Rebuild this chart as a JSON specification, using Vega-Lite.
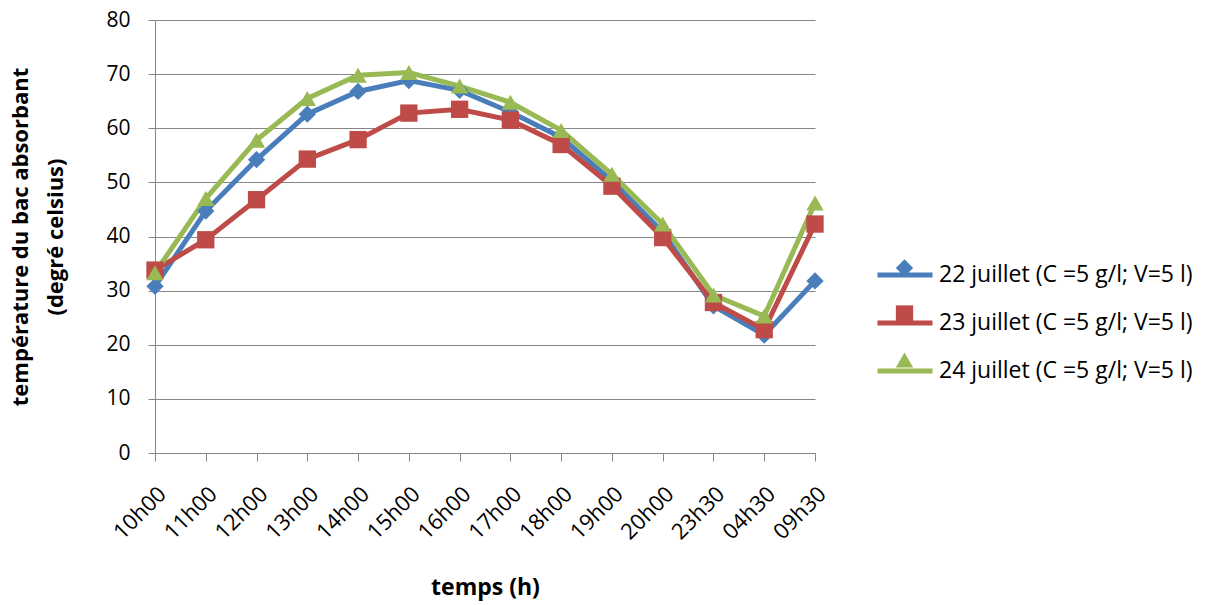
{
  "$schema": "https://vega.github.io/schema/vega-lite/v6.json",
  "width": 660,
  "height": 433,
  "autosize": {"type": "none"},
  "padding": {"left": 155, "top": 20, "right": 398, "bottom": 152},
  "background": "white",
  "config": {
    "font": "Open Sans",
    "view": {"stroke": null},
    "axis": {"labelFont": "Open Sans", "titleFont": "Open Sans", "labelColor": "black", "titleColor": "black"}
  },
  "data": {
    "values": [
      {"heure": "10h00", "serie": "22 juillet (C =5 g/l; V=5 l)", "temp": 30.8},
      {"heure": "11h00", "serie": "22 juillet (C =5 g/l; V=5 l)", "temp": 44.7},
      {"heure": "12h00", "serie": "22 juillet (C =5 g/l; V=5 l)", "temp": 54.2},
      {"heure": "13h00", "serie": "22 juillet (C =5 g/l; V=5 l)", "temp": 62.6},
      {"heure": "14h00", "serie": "22 juillet (C =5 g/l; V=5 l)", "temp": 66.8},
      {"heure": "15h00", "serie": "22 juillet (C =5 g/l; V=5 l)", "temp": 68.8},
      {"heure": "16h00", "serie": "22 juillet (C =5 g/l; V=5 l)", "temp": 67.0},
      {"heure": "17h00", "serie": "22 juillet (C =5 g/l; V=5 l)", "temp": 63.0},
      {"heure": "18h00", "serie": "22 juillet (C =5 g/l; V=5 l)", "temp": 58.3},
      {"heure": "19h00", "serie": "22 juillet (C =5 g/l; V=5 l)", "temp": 50.3},
      {"heure": "20h00", "serie": "22 juillet (C =5 g/l; V=5 l)", "temp": 40.8},
      {"heure": "23h30", "serie": "22 juillet (C =5 g/l; V=5 l)", "temp": 27.2},
      {"heure": "04h30", "serie": "22 juillet (C =5 g/l; V=5 l)", "temp": 21.8},
      {"heure": "09h30", "serie": "22 juillet (C =5 g/l; V=5 l)", "temp": 31.8},
      {"heure": "10h00", "serie": "23 juillet (C =5 g/l; V=5 l)", "temp": 33.8},
      {"heure": "11h00", "serie": "23 juillet (C =5 g/l; V=5 l)", "temp": 39.4},
      {"heure": "12h00", "serie": "23 juillet (C =5 g/l; V=5 l)", "temp": 46.8},
      {"heure": "13h00", "serie": "23 juillet (C =5 g/l; V=5 l)", "temp": 54.3},
      {"heure": "14h00", "serie": "23 juillet (C =5 g/l; V=5 l)", "temp": 57.9},
      {"heure": "15h00", "serie": "23 juillet (C =5 g/l; V=5 l)", "temp": 62.8},
      {"heure": "16h00", "serie": "23 juillet (C =5 g/l; V=5 l)", "temp": 63.5},
      {"heure": "17h00", "serie": "23 juillet (C =5 g/l; V=5 l)", "temp": 61.5},
      {"heure": "18h00", "serie": "23 juillet (C =5 g/l; V=5 l)", "temp": 57.0},
      {"heure": "19h00", "serie": "23 juillet (C =5 g/l; V=5 l)", "temp": 49.3},
      {"heure": "20h00", "serie": "23 juillet (C =5 g/l; V=5 l)", "temp": 39.8},
      {"heure": "23h30", "serie": "23 juillet (C =5 g/l; V=5 l)", "temp": 27.8},
      {"heure": "04h30", "serie": "23 juillet (C =5 g/l; V=5 l)", "temp": 22.8},
      {"heure": "09h30", "serie": "23 juillet (C =5 g/l; V=5 l)", "temp": 42.3},
      {"heure": "10h00", "serie": "24 juillet (C =5 g/l; V=5 l)", "temp": 33.3},
      {"heure": "11h00", "serie": "24 juillet (C =5 g/l; V=5 l)", "temp": 47.0},
      {"heure": "12h00", "serie": "24 juillet (C =5 g/l; V=5 l)", "temp": 57.8},
      {"heure": "13h00", "serie": "24 juillet (C =5 g/l; V=5 l)", "temp": 65.5},
      {"heure": "14h00", "serie": "24 juillet (C =5 g/l; V=5 l)", "temp": 69.8},
      {"heure": "15h00", "serie": "24 juillet (C =5 g/l; V=5 l)", "temp": 70.3},
      {"heure": "16h00", "serie": "24 juillet (C =5 g/l; V=5 l)", "temp": 67.8},
      {"heure": "17h00", "serie": "24 juillet (C =5 g/l; V=5 l)", "temp": 64.8},
      {"heure": "18h00", "serie": "24 juillet (C =5 g/l; V=5 l)", "temp": 59.6},
      {"heure": "19h00", "serie": "24 juillet (C =5 g/l; V=5 l)", "temp": 51.5},
      {"heure": "20h00", "serie": "24 juillet (C =5 g/l; V=5 l)", "temp": 42.3},
      {"heure": "23h30", "serie": "24 juillet (C =5 g/l; V=5 l)", "temp": 29.2},
      {"heure": "04h30", "serie": "24 juillet (C =5 g/l; V=5 l)", "temp": 25.3},
      {"heure": "09h30", "serie": "24 juillet (C =5 g/l; V=5 l)", "temp": 46.2}
    ]
  },
  "encoding": {
    "x": {
      "field": "heure", "type": "ordinal",
      "sort": ["10h00","11h00","12h00","13h00","14h00","15h00","16h00","17h00","18h00","19h00","20h00","23h30","04h30","09h30"],
      "scale": {"type": "point", "padding": 0},
      "axis": {
        "title": "temps (h)", "titleFontSize": 23, "titleFontWeight": "bold", "titlePadding": 34,
        "labelAngle": -45, "labelFontSize": 22, "labelPadding": 22,
        "tickSize": 8, "tickColor": "#868686", "domainColor": "#868686", "grid": false
      }
    },
    "y": {
      "field": "temp", "type": "quantitative",
      "scale": {"domain": [0, 80], "nice": false},
      "axis": {
        "title": ["température du bac absorbant", "(degré celsius)"],
        "titleFontSize": 22, "titleFontWeight": "bold", "titlePadding": 38, "titleLineHeight": 35,
        "values": [0,10,20,30,40,50,60,70,80],
        "labelFontSize": 21, "labelPadding": 18,
        "tickSize": 7, "tickColor": "#868686", "domainColor": "#868686",
        "grid": true, "gridColor": "#868686", "gridWidth": 1
      }
    }
  },
  "layer": [
    {
      "mark": {"type": "line", "strokeWidth": 5},
      "encoding": {
        "color": {
          "field": "serie", "type": "nominal",
          "scale": {"range": ["#4A7EBB", "#BE4B48", "#98B954"]},
          "legend": {
            "title": null, "orient": "none", "legendX": 720, "legendY": 225,
            "symbolType": "stroke", "symbolSize": 3025, "symbolStrokeWidth": 5,
            "labelFontSize": 23, "labelFont": "Open Sans", "labelColor": "black", "labelLimit": 400,
            "rowPadding": 6, "labelOffset": 4, "padding": 0
          }
        }
      }
    },
    {
      "mark": {"type": "point", "filled": true, "size": 300, "opacity": 1},
      "encoding": {
        "fill": {
          "field": "serie", "type": "nominal",
          "scale": {"range": ["#4A7EBB", "#BE4B48", "#98B954"]},
          "legend": {
            "title": null, "orient": "none", "legendX": 739.5, "legendY": 238,
            "symbolSize": 300, "symbolOpacity": 1, "symbolStrokeWidth": 0,
            "labelFontSize": 20, "labelExpr": "''", "labelLimit": 400,
            "rowPadding": 26, "labelOffset": 4, "padding": 0
          }
        },
        "shape": {
          "field": "serie", "type": "nominal",
          "scale": {"range": ["diamond", "square", "triangle-up"]},
          "legend": {
            "title": null, "orient": "none", "legendX": 739.5, "legendY": 238,
            "symbolSize": 300, "symbolOpacity": 1, "symbolStrokeWidth": 0,
            "labelFontSize": 20, "labelExpr": "''", "labelLimit": 400,
            "rowPadding": 26, "labelOffset": 4, "padding": 0
          }
        },
        "color": {"value": null}
      }
    }
  ]
}
